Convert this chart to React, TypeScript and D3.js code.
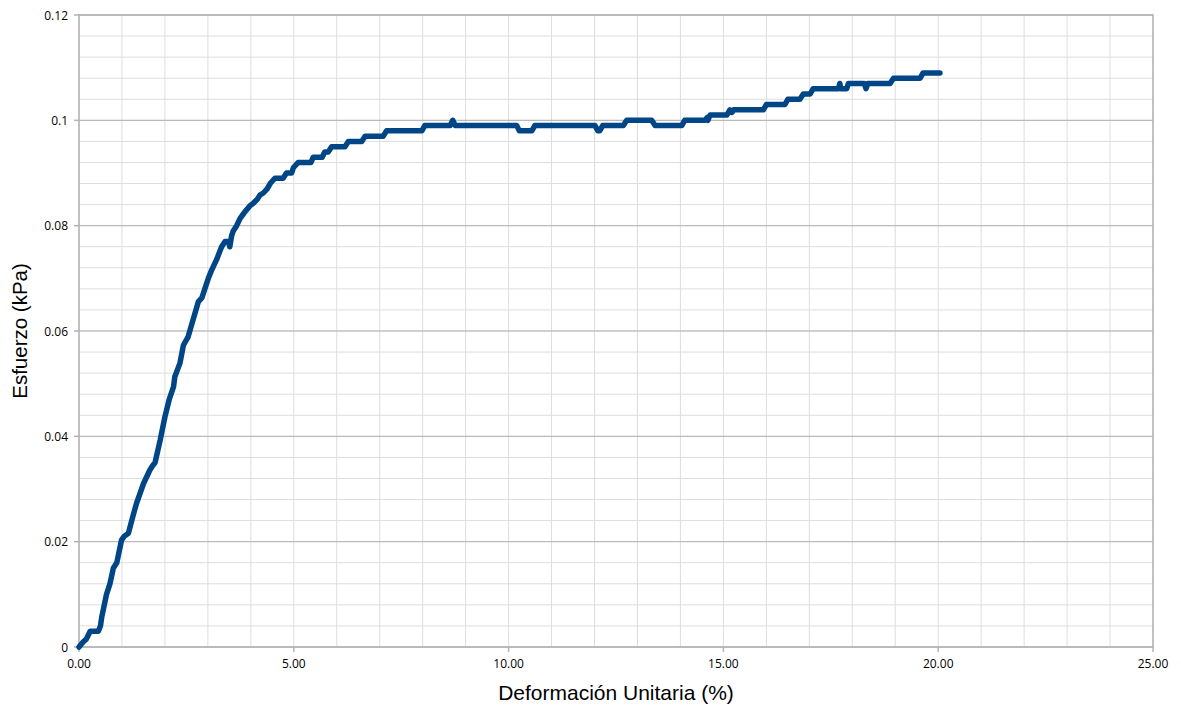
import React from "react";
import * as d3 from "d3";

const strain: number[] = [
  0, 0.1, 0.17, 0.26, 0.45, 0.5, 0.53, 0.64, 0.72, 0.8, 0.88, 0.99, 1.05, 1.15, 1.26, 1.34, 1.5, 1.65, 1.72, 1.77,
  1.89, 2.0, 2.1, 2.2, 2.23, 2.35, 2.43, 2.54, 2.65, 2.78, 2.86, 3.01, 3.09, 3.2, 3.32, 3.4, 3.48, 3.51, 3.55, 3.59,
  3.67, 3.75, 3.85, 3.98, 4.05, 4.15, 4.21, 4.29, 4.38, 4.45, 4.56, 4.75, 4.83, 4.95, 4.99, 5.1, 5.4, 5.45, 5.66, 5.72,
  5.8, 5.88, 6.19, 6.27, 6.58, 6.66, 7.08, 7.16, 7.98, 8.05, 8.64, 8.7, 8.76, 10.19, 10.25, 10.54, 10.61, 12.01, 12.08, 12.12,
  12.19, 12.67, 12.75, 13.33, 13.41, 14.03, 14.1, 14.57, 14.62, 14.64, 14.69, 15.08, 15.15, 15.2, 15.24, 15.93, 16.0, 16.43, 16.5, 16.78,
  16.86, 17.02, 17.09, 17.68, 17.71, 17.73, 17.87, 17.91, 18.28, 18.32, 18.36, 18.88, 18.96, 19.58, 19.65, 20.04,
];

const stress: number[] = [
  0, 0.001, 0.0015, 0.003, 0.003, 0.004, 0.0057, 0.01, 0.012, 0.015, 0.016, 0.0203, 0.021, 0.0216, 0.025, 0.0273, 0.031, 0.0336, 0.0345, 0.035,
  0.0393, 0.0437, 0.047, 0.0494, 0.0513, 0.0539, 0.0573, 0.0589, 0.062, 0.0656, 0.0663, 0.07, 0.0716, 0.0735, 0.076, 0.077, 0.077, 0.076, 0.078, 0.079,
  0.08, 0.0814, 0.0825, 0.0838, 0.0842, 0.085, 0.0858, 0.0862, 0.087, 0.088, 0.089, 0.089, 0.09, 0.09, 0.091, 0.092, 0.092, 0.093, 0.093, 0.094,
  0.094, 0.095, 0.095, 0.096, 0.096, 0.097, 0.097, 0.098, 0.098, 0.099, 0.099, 0.1, 0.099, 0.099, 0.098, 0.098, 0.099, 0.099, 0.098, 0.098,
  0.099, 0.099, 0.1, 0.1, 0.099, 0.099, 0.1, 0.1, 0.1005, 0.1, 0.101, 0.101, 0.102, 0.1015, 0.102, 0.102, 0.103, 0.103, 0.104, 0.104,
  0.105, 0.105, 0.106, 0.106, 0.107, 0.106, 0.106, 0.107, 0.107, 0.106, 0.107, 0.107, 0.108, 0.108, 0.109, 0.109,
];

const xTickLabels: number[] = [0, 5, 10, 15, 20, 25];
const yTickLabels: number[] = [0, 0.02, 0.04, 0.06, 0.08, 0.1, 0.12];
const xTitle = "Deformación Unitaria (%)";
const yTitle = "Esfuerzo (kPa)";

export default function App() {
  const W = 1181;
  const H = 709;
  const left = 79;
  const right = 1153;
  const top = 15;
  const bottom = 647;

  const x = d3.scaleLinear().domain([0, 25]).range([left, right]);
  const y = d3.scaleLinear().domain([0, 0.12]).range([bottom, top]);

  const xMinor = d3.range(0, 25.001, 1);
  const yMinor = d3.range(0, 0.12001, 0.004);

  const pts: [number, number][] = strain.map((s, i) => [s, stress[i]]);
  const line = d3
    .line<[number, number]>()
    .x((d) => x(d[0]))
    .y((d) => y(d[1]));

  const yFmt = (v: number) => (v === 0 ? "0" : String(+v.toFixed(2)));

  return (
    <svg
      width={W}
      height={H}
      style={{ position: "absolute", left: 0, top: 0, background: "#fff" }}
    >
      <rect x={0} y={0} width={W} height={H} fill="#fff" />
      {xMinor.map((v, i) => (
        <line key={"xm" + i} x1={x(v)} x2={x(v)} y1={top} y2={bottom} stroke="#dddddd" strokeWidth={1} />
      ))}
      {yMinor.map((v, i) => (
        <line key={"ym" + i} x1={left} x2={right} y1={y(v)} y2={y(v)} stroke="#dddddd" strokeWidth={1} />
      ))}
      {yTickLabels.map((v, i) => (
        <line key={"yM" + i} x1={left} x2={right} y1={y(v)} y2={y(v)} stroke="#b3b3b3" strokeWidth={1} />
      ))}
      <rect x={left} y={top} width={right - left} height={bottom - top} fill="none" stroke="#b3b3b3" strokeWidth={1.5} />
      {xTickLabels.map((v, i) => (
        <g key={"xt" + i}>
          <line x1={x(v)} x2={x(v)} y1={bottom} y2={bottom + 5} stroke="#b3b3b3" strokeWidth={1.5} />
          <text
            x={x(v)}
            y={bottom + 21}
            textAnchor="middle"
            fontFamily="Open Sans"
            fontSize={12}
            fill="#000"
          >
            {v.toFixed(2)}
          </text>
        </g>
      ))}
      {yTickLabels.map((v, i) => (
        <g key={"yt" + i}>
          <line x1={left - 5} x2={left} y1={y(v)} y2={y(v)} stroke="#b3b3b3" strokeWidth={1.5} />
          <text
            x={left - 11}
            y={y(v) + 4.5}
            textAnchor="end"
            fontFamily="Open Sans"
            fontSize={12}
            fill="#000"
          >
            {yFmt(v)}
          </text>
        </g>
      ))}
      <path
        d={line(pts) || ""}
        fill="none"
        stroke="#004586"
        strokeWidth={5.5}
        strokeLinejoin="round"
        strokeLinecap="round"
      />
      <text x={616} y={700} textAnchor="middle" fontFamily="Liberation Sans" fontSize={21} fill="#000">
        {xTitle}
      </text>
      <text
        transform={`translate(27,${(top + bottom) / 2}) rotate(-90)`}
        textAnchor="middle"
        fontFamily="Liberation Sans"
        fontSize={20.5}
        fill="#000"
      >
        {yTitle}
      </text>
    </svg>
  );
}
